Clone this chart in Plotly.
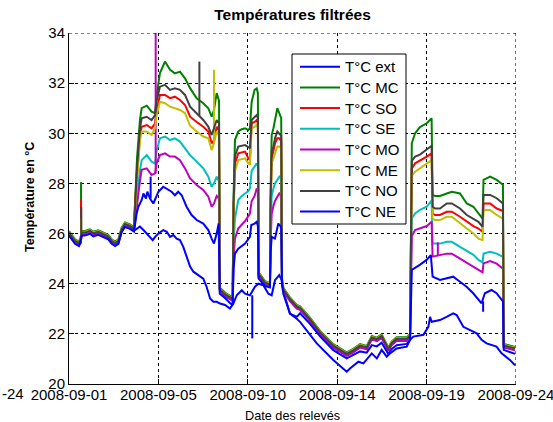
import plotly.graph_objects as go
import pandas as pd

# ---------------- data (days counted from 2008-08-31, so 1.0 = 2008-09-01 00:00) ----------------
names = ["T°C ext", "T°C MC", "T°C SO", "T°C SE", "T°C MO", "T°C ME", "T°C NO", "T°C NE"]
colors = ["#0000ff", "#008000", "#ff0000", "#00bfbf", "#bf00bf", "#bfbf00", "#404040", "#0000ff"]

tick_days = [1.0, 5.6, 10.2, 14.8, 19.4, 24.0]
tick_labels = ["2008-09-01", "2008-09-05", "2008-09-10", "2008-09-14", "2008-09-19", "2008-09-24"]
left_cut_label = "-24"

# common indoor baseline (all indoor sensors nearly together)
base_a_days = [1.0, 1.15, 1.31, 1.51, 1.60, 1.65, 1.82, 2.08, 2.25, 2.51, 2.77, 3.02, 3.20, 3.37, 3.54, 3.71, 3.88, 4.14, 4.345]
base_a_vals = [26.0, 25.85, 25.67, 25.58, 25.75, 26.0, 26.0, 26.07, 25.97, 26.03, 25.94, 25.85, 25.67, 25.58, 25.67, 26.14, 26.34, 26.27, 26.16]
base_b_days = [8.76, 8.94, 9.10, 9.32, 9.42]
base_b_vals = [23.74, 23.60, 23.50, 23.41, 23.35]
base_c_days = [10.76, 10.83, 11.09, 11.26, 11.34]
base_c_vals = [24.30, 24.28, 24.00, 23.95, 23.95]
base_d_days = [11.96, 12.03, 12.37, 12.72, 12.89, 13.40, 13.92, 14.60, 15.29, 15.63, 15.98, 16.32, 16.58, 16.84, 17.09, 17.43, 17.61, 17.86, 18.38, 18.55]
base_d_vals = [24.10, 23.74, 23.35, 23.05, 23.00, 22.55, 22.02, 21.49, 21.16, 21.30, 21.49, 21.42, 21.82, 21.75, 21.88, 21.36, 21.60, 21.76, 21.76, 21.90]
base_e_days = [23.37, 23.60, 23.95]
base_e_vals = [21.50, 21.45, 21.38]
# small per-sensor offsets inside the baseline bundle: MC, SO, SE, MO, ME, NO
cluster_offsets = [0.10, 0.02, -0.02, -0.04, 0.07, 0.04]

# warm episodes
ev1_days = [4.40, 4.50, 4.65, 4.74, 5.00, 5.25, 5.43, 5.51, 5.68, 5.94, 6.20, 6.45, 6.71, 6.97, 7.23, 7.57, 7.91, 8.17, 8.34, 8.46, 8.60, 8.72]
ev2_days = [9.47, 9.54, 9.71, 9.89, 10.06, 10.23, 10.31, 10.40, 10.55, 10.66, 10.72]
ev3_days = [11.38, 11.43, 11.52, 11.60, 11.72, 11.82, 11.92]
ev4_days = [18.64, 18.81, 19.06, 19.41, 19.66, 19.71, 19.84, 20.09, 20.44, 20.70, 21.12, 21.47, 21.81, 22.07, 22.28, 22.33, 22.67, 23.01, 23.33]

mc_ev1 = [27.5, 29.0, 30.53, 31.0, 31.1, 30.86, 30.8, 31.53, 32.4, 32.86, 32.53, 32.39, 32.46, 32.19, 31.8, 31.4, 31.2, 31.0, 30.66, 30.93, 31.6, 31.3]
so_ev1 = [27.2, 28.3, 29.9, 30.26, 30.33, 30.2, 30.4, 30.9, 31.53, 31.53, 31.4, 31.46, 31.33, 31.13, 30.66, 30.45, 30.26, 30.07, 29.6, 29.73, 30.26, 30.1]
se_ev1 = [26.8, 27.6, 28.5, 28.93, 29.13, 28.87, 28.8, 29.3, 29.8, 29.87, 29.73, 29.8, 29.67, 29.4, 29.13, 28.87, 28.6, 28.27, 27.87, 28.0, 28.27, 28.1]
mo_ev1 = [26.5, 27.3, 28.1, 28.54, 28.6, 28.34, 28.4, 28.8, 29.13, 29.2, 29.07, 29.07, 28.93, 28.6, 28.2, 27.94, 27.74, 27.47, 27.07, 27.2, 27.5, 27.4]
me_ev1 = [27.0, 28.1, 29.7, 30.07, 30.07, 29.93, 30.2, 30.7, 31.26, 31.2, 31.06, 31.0, 30.93, 30.8, 30.3, 30.07, 29.87, 29.8, 29.33, 29.6, 30.07, 29.9]
no_ev1 = [27.3, 28.6, 30.2, 30.6, 30.66, 30.53, 30.73, 31.3, 31.86, 31.93, 31.73, 31.79, 31.73, 31.53, 31.06, 30.8, 30.53, 30.26, 29.93, 30.2, 30.53, 30.4]

mc_ev2 = [27.5, 29.73, 30.07, 30.16, 30.2, 30.13, 30.2, 31.26, 31.73, 31.79, 31.6]
so_ev2 = [27.0, 28.8, 29.2, 29.25, 29.27, 29.0, 28.93, 30.4, 30.45, 30.53, 30.4]
se_ev2 = [25.6, 26.6, 27.34, 27.5, 27.6, 27.7, 27.8, 28.5, 28.67, 28.8, 28.7]
mo_ev2 = [25.0, 25.8, 26.2, 26.35, 26.5, 26.7, 26.8, 27.3, 27.5, 27.8, 27.7]
me_ev2 = [26.8, 28.5, 28.93, 28.97, 29.0, 28.8, 28.74, 30.2, 30.25, 30.33, 30.2]
no_ev2 = [27.2, 29.1, 29.47, 29.5, 29.53, 29.45, 29.4, 30.53, 30.65, 30.73, 30.6]

mc_ev3 = [28.0, 29.93, 30.2, 30.53, 31.0, 30.8, 30.6]
so_ev3 = [27.3, 29.0, 29.3, 29.6, 29.8, 29.8, 29.7]
se_ev3 = [26.2, 27.5, 27.8, 28.0, 28.14, 28.27, 28.2]
mo_ev3 = [25.8, 26.8, 27.1, 27.3, 27.47, 27.6, 27.5]
me_ev3 = [27.0, 28.8, 29.0, 29.2, 29.47, 29.47, 29.4]
no_ev3 = [27.5, 29.3, 29.47, 29.8, 30.07, 30.0, 29.9]

mc_ev4 = [29.6, 30.0, 30.25, 30.4, 30.6, 27.54, 27.5, 27.5, 27.6, 27.67, 27.6, 27.2, 27.07, 26.8, 26.6, 28.14, 28.27, 28.14, 27.95]
so_ev4 = [28.6, 28.8, 28.9, 29.07, 29.2, 26.8, 26.74, 26.74, 26.87, 26.87, 26.67, 26.47, 26.3, 26.2, 26.07, 27.2, 27.2, 27.0, 26.9]
se_ev4 = [26.6, 26.8, 26.95, 27.07, 27.33, 25.6, 25.6, 25.6, 25.67, 25.67, 25.47, 25.3, 25.15, 24.95, 24.85, 25.2, 25.27, 25.2, 25.07]
mo_ev4 = [25.9, 26.14, 26.2, 26.3, 26.47, 25.08, 25.1, 25.14, 25.2, 25.2, 25.0, 24.85, 24.7, 24.55, 24.45, 24.81, 24.9, 24.8, 24.6]
me_ev4 = [28.3, 28.47, 28.6, 28.8, 28.93, 26.6, 26.54, 26.54, 26.67, 26.67, 26.4, 26.2, 26.0, 25.8, 25.74, 26.94, 26.94, 26.74, 26.6]
no_ev4 = [28.9, 29.07, 29.15, 29.34, 29.5, 27.07, 27.0, 27.0, 27.2, 27.2, 27.0, 26.74, 26.6, 26.47, 26.27, 27.54, 27.54, 27.41, 27.2]

ne_days = [1.0, 1.15, 1.31, 1.51, 1.60, 1.65, 1.82, 2.08, 2.25, 2.51, 2.77, 3.02, 3.20, 3.37, 3.54, 3.71, 3.88, 4.14, 4.345,
           4.48, 4.57, 4.74, 4.83, 4.96, 5.03, 5.17, 5.34, 5.60, 5.85, 6.02, 6.28, 6.45, 6.62, 6.80, 7.05, 7.31, 7.57, 7.91, 8.17, 8.34, 8.46, 8.60, 8.70,
           8.76, 9.00, 9.32, 9.42,
           9.47, 9.54, 9.71, 10.06, 10.31, 10.38, 10.55, 10.66, 10.72,
           10.76, 11.09, 11.34,
           11.38, 11.43, 11.60, 11.77, 11.88, 11.92,
           11.96, 12.03, 12.37, 12.72, 12.89, 13.40, 13.92, 14.60, 15.29, 15.63, 15.98, 16.32, 16.58, 16.84, 17.09, 17.43, 17.61, 17.86, 18.38, 18.55,
           18.64, 19.05, 19.40, 19.62, 19.71, 20.09, 20.43, 20.77, 21.12, 21.46, 21.80, 22.23, 22.40, 22.74, 23.00, 23.26, 23.33,
           23.37, 23.60, 23.95]
ne_vals = [25.92, 25.77, 25.59, 25.50, 25.67, 25.92, 25.92, 25.99, 25.89, 25.95, 25.86, 25.77, 25.59, 25.50, 25.59, 26.06, 26.26, 26.19, 26.08,
           26.8, 27.07, 27.34, 27.6, 27.4, 27.67, 27.4, 27.2, 27.67, 27.87, 27.8, 27.67, 27.53, 27.67, 27.53, 27.07, 26.74, 26.54, 26.4, 26.14, 25.8, 25.6, 26.0, 26.4,
           23.6, 23.45, 23.2, 23.15,
           24.6, 25.2, 25.4, 25.6, 25.87, 26.34, 26.4, 26.47, 26.3,
           24.2, 23.9, 23.85,
           25.3, 25.87, 25.8, 26.4, 26.3, 26.2,
           23.95, 23.6, 22.81, 22.68, 22.82, 22.4, 21.9, 21.35, 21.02, 21.15, 21.3, 21.25, 21.55, 21.5, 21.65, 21.2, 21.4, 21.55, 21.6, 21.75,
           24.55, 24.75, 24.95, 25.14, 24.28, 24.15, 24.22, 24.28, 24.08, 23.88, 23.62, 23.22, 23.62, 23.75, 23.62, 23.35, 23.3,
           21.36, 21.3, 21.2]

ext_days = [1.0, 1.15, 1.31, 1.51, 1.60, 1.65, 1.82, 2.08, 2.25, 2.51, 2.77, 3.02, 3.20, 3.37, 3.54, 3.71, 3.88, 4.14, 4.345,
            4.65, 4.83, 5.00, 5.17, 5.31, 5.43, 5.60, 5.85, 6.03, 6.20, 6.37, 6.54, 6.71, 6.88, 7.05, 7.23, 7.40, 7.66, 7.91, 8.08,
            8.26, 8.43, 8.60, 8.77, 9.03, 9.28, 9.46, 9.63, 9.89, 10.06, 10.31, 10.57, 10.74, 11.00, 11.26, 11.43, 11.60, 11.82, 11.94,
            12.11, 12.37, 12.72, 12.89, 13.75, 14.60, 15.29, 15.46, 15.89, 16.15, 16.58, 16.84, 17.09, 17.35, 17.52, 17.86, 18.38,
            18.55, 18.72, 19.24, 19.49, 19.58, 19.66, 20.09, 20.43, 20.77, 20.95, 21.29, 21.64, 21.98, 22.23, 22.49, 23.00, 23.26,
            23.69, 23.95]
ext_vals = [25.95, 25.80, 25.62, 25.53, 25.62, 25.95, 25.95, 26.02, 25.92, 25.98, 25.89, 25.80, 25.62, 25.53, 25.62, 26.09, 26.29, 26.22, 26.11,
            26.28, 26.14, 26.00, 25.87, 25.74, 25.87, 26.00, 26.14, 26.07, 25.87, 25.94, 25.80, 25.74, 25.47, 25.07, 24.68, 24.48, 24.35, 24.20, 23.88,
            23.41, 23.28, 23.28, 23.21, 23.15, 23.01, 23.21, 23.54, 23.74, 23.60, 23.54, 23.88, 24.00, 23.94, 23.60, 23.54, 24.14, 24.34, 24.14,
            23.48, 22.81, 22.60, 22.48, 21.62, 20.96, 20.49, 20.62, 20.89, 20.82, 21.22, 21.02, 21.36, 21.09, 21.22, 21.42, 21.49,
            21.76, 21.89, 21.96, 22.28, 22.68, 22.48, 22.55, 22.68, 22.82, 22.75, 22.28, 22.15, 22.02, 21.76, 21.62, 21.49, 21.22,
            20.96, 20.75]

# short isolated spikes: series index, day, from, to
spike_series = [1, 2, 6, 5, 4, 7, 6, 5, 0, 4, 7]
spike_days = [1.62, 1.62, 1.63, 1.625, 5.46, 5.20, 7.71, 8.46, 10.43, 19.98, 22.31]
spike_lo = [26.0, 26.0, 26.0, 26.0, 28.4, 27.4, 30.7, 29.6, 23.54, 25.1, 23.3]
spike_hi = [28.05, 27.35, 27.05, 26.6, 34.0, 28.27, 32.86, 32.53, 21.82, 25.65, 22.88]

# ---------------- build series ----------------
origin = pd.Timestamp("2008-08-31")


def to_dt(days):
    return [origin + pd.Timedelta(days=d) for d in days]


indoor_events = [
    (mc_ev1, mc_ev2, mc_ev3, mc_ev4),
    (so_ev1, so_ev2, so_ev3, so_ev4),
    (se_ev1, se_ev2, se_ev3, se_ev4),
    (mo_ev1, mo_ev2, mo_ev3, mo_ev4),
    (me_ev1, me_ev2, me_ev3, me_ev4),
    (no_ev1, no_ev2, no_ev3, no_ev4),
]

all_days = [ext_days]
all_vals = [ext_vals]
for (e1, e2, e3, e4), off in zip(indoor_events, cluster_offsets):
    d = base_a_days + ev1_days + base_b_days + ev2_days + base_c_days + ev3_days + base_d_days + ev4_days + base_e_days
    v = ([x + off for x in base_a_vals] + e1 + [x + off for x in base_b_vals] + e2 +
         [x + off for x in base_c_vals] + e3 + [x + off for x in base_d_vals] + e4 +
         [x + off for x in base_e_vals])
    assert len(d) == len(v)
    all_days.append(d)
    all_vals.append(v)
all_days.append(ne_days)
all_vals.append(ne_vals)
assert len(ne_days) == len(ne_vals) and len(ext_days) == len(ext_vals)

fig = go.Figure()
for i in range(8):
    fig.add_trace(go.Scatter(
        x=to_dt(all_days[i]), y=all_vals[i], mode="lines", name=names[i],
        line=dict(color=colors[i], width=2), showlegend=False))
    sx, sy = [], []
    for s, d, lo, hi in zip(spike_series, spike_days, spike_lo, spike_hi):
        if s == i:
            t = origin + pd.Timedelta(days=d)
            sx += [t, t, None]
            sy += [lo, hi, None]
    if sx:
        fig.add_trace(go.Scatter(x=sx, y=sy, mode="lines", showlegend=False,
                                 line=dict(color=colors[i], width=2), connectgaps=False))

font_family = "Liberation Sans, Arial, sans-serif"
x0 = origin + pd.Timedelta(days=tick_days[0])
x1 = origin + pd.Timedelta(days=tick_days[-1])
x1_range = origin + pd.Timedelta(days=tick_days[-1] + 0.002)

fig.update_layout(
    width=553, height=422,
    margin=dict(l=69, r=37, t=33, b=38, autoexpand=False),
    paper_bgcolor="white", plot_bgcolor="white",
    font=dict(family=font_family, color="black", size=15),
    showlegend=False,
    xaxis=dict(type="date", range=[x0, x1_range], tickvals=to_dt(tick_days), ticktext=tick_labels,
               showgrid=True, gridcolor="black", gridwidth=1, griddash="3px,3px",
               showline=True, linecolor="black", linewidth=1, mirror=False,
               ticks="inside", ticklen=5, tickcolor="black", zeroline=False,
               ticklabeloverflow="allow", ticklabelstandoff=-3, automargin=False,
               tickfont=dict(size=15)),
    yaxis=dict(range=[20, 34], tickvals=[20, 22, 24, 26, 28, 30, 32, 34],
               showgrid=True, gridcolor="black", gridwidth=1, griddash="3px,3px",
               showline=True, linecolor="black", linewidth=1, mirror=False,
               ticks="inside", ticklen=5, tickcolor="black", zeroline=False,
               automargin=False, tickfont=dict(size=15)),
    title=dict(text="Températures filtrées", x=0.5, xref="paper", xanchor="center",
               y=1 - 15 / 422, yref="container", yanchor="middle",
               font=dict(size=15.5, family=font_family, color="black", weight="bold")),
)

# dashed grid lines on the open top and right edges
fig.add_shape(type="line", xref="paper", yref="y", x0=0, x1=1, y0=34, y1=34,
              line=dict(color="black", width=1, dash="3px,3px"))
fig.add_shape(type="line", xref="x", yref="paper", x0=x1, x1=x1, y0=0, y1=1,
              line=dict(color="black", width=1, dash="3px,3px"))

# legend box (MATLAB style), built from names/colors
W, H = 447.0, 351.0
def px_x(p):
    return (p - 69) / W
def px_y(p):
    return (384 - p) / H

fig.add_shape(type="rect", xref="paper", yref="paper", layer="above",
              x0=px_x(292), x1=px_x(406), y0=px_y(224), y1=px_y(54),
              fillcolor="white", line=dict(color="black", width=1))
for k, (nm, col) in enumerate(zip(names, colors)):
    yc = 66.7 + k * 20.7
    fig.add_shape(type="line", xref="paper", yref="paper", layer="above",
                  x0=px_x(300), x1=px_x(340), y0=px_y(yc), y1=px_y(yc),
                  line=dict(color=col, width=2))
    fig.add_annotation(text=nm, xref="paper", yref="paper", x=px_x(343), y=px_y(yc),
                       xanchor="left", yanchor="middle", showarrow=False,
                       font=dict(size=15, family=font_family, color="black"))

fig.add_annotation(text="Date des relevés", xref="paper", yref="paper", x=0.5, y=-32 / 351,
                   xanchor="center", yanchor="middle", showarrow=False,
                   font=dict(size=12.7, family=font_family, color="black"))
fig.add_annotation(text="Température en °C", xref="paper", yref="paper", x=-39 / 447, y=187 / 351,
                   xanchor="center", yanchor="middle", showarrow=False, textangle=-90,
                   font=dict(size=12.5, family=font_family, color="black", weight="bold"))
fig.add_annotation(text=left_cut_label, xref="paper", yref="paper", x=px_x(0), y=px_y(393.5),
                   xanchor="left", yanchor="middle", showarrow=False,
                   font=dict(size=15, family=font_family, color="black"))

fig.write_html("out.html", config={"displayModeBar": False},
               post_script="document.body.style.margin='0';document.body.style.overflow='hidden';")
